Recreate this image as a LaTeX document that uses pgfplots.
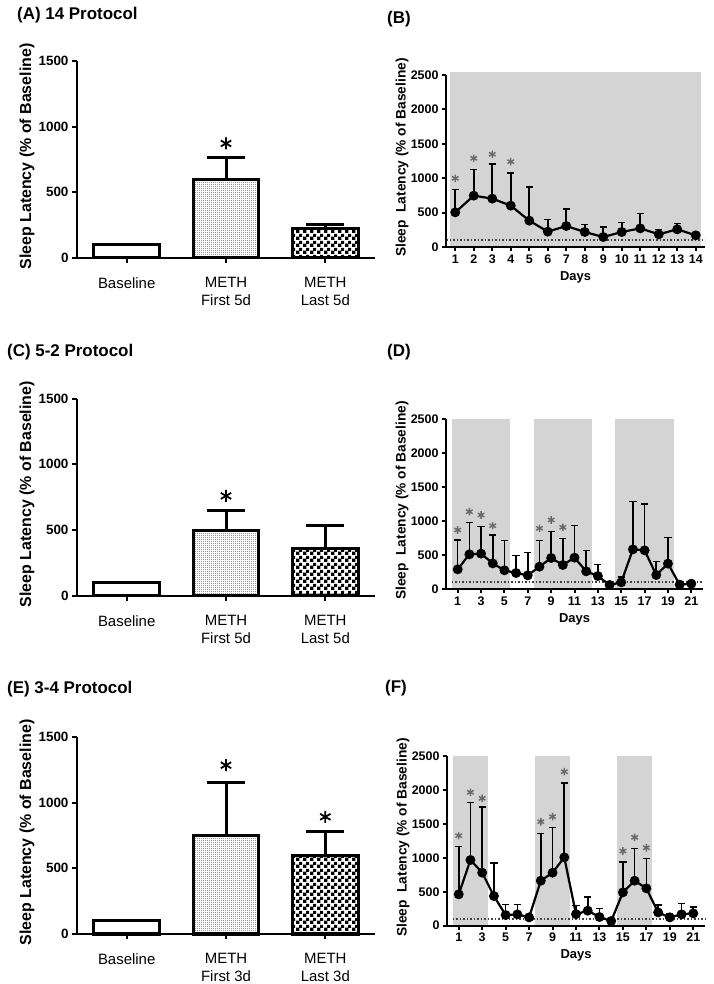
\documentclass[border=0pt]{standalone}
\usepackage{pgfplots}
\pgfplotsset{compat=1.18}
\usepackage{fontspec}
\setmainfont{Liberation Sans}
\usetikzlibrary{patterns}
\definecolor{shade}{RGB}{212,212,212}
\definecolor{stargray}{RGB}{105,105,105}
\pgfdeclarepatternformonly{bigchecker}{\pgfpointorigin}{\pgfqpoint{6.6pt}{6.6pt}}{\pgfqpoint{6.6pt}{6.6pt}}{%
  \pgfpathrectangle{\pgfpointorigin}{\pgfqpoint{3.7pt}{3.7pt}}%
  \pgfpathrectangle{\pgfqpoint{3.3pt}{3.3pt}}{\pgfqpoint{3.3pt}{3.3pt}}%
  \pgfusepath{fill}}
\pgfdeclarepatternformonly{finedots}{\pgfpointorigin}{\pgfqpoint{2pt}{2pt}}{\pgfqpoint{2pt}{2pt}}{%
  \pgfpathrectangle{\pgfpointorigin}{\pgfqpoint{0.6pt}{0.6pt}}%
  \pgfusepath{fill}}

\pgfplotstableread{
x y e
1 504 334
2 746 383
3 703 499
4 601 475
5 383 489
6 223 179
7 305 247
8 218 107
9 145 146
10 218 136
11 271 218
12 184 73
13 257 82
14 170 0
}\dataB
\pgfplotstableread{
x y e
1 289 431
2 510 465
3 520 397
4 377 417
5 275 436
6 235 255
7 201 338
8 328 383
9 456 387
10 353 392
11 461 470
12 260 309
13 191 172
14 59 0
15 98 74
16 583 701
17 569 681
18 206 196
19 373 387
20 64 0
21 78 0
}\dataD
\pgfplotstableread{
x y e
1 462 702
2 968 849
3 781 968
4 437 486
5 157 157
6 167 147
7 123 0
8 663 697
9 781 663
10 1007 1095
11 170 128
12 221 206
13 128 127
14 69 0
15 491 447
16 663 476
17 550 442
18 196 109
19 123 59
20 167 162
21 182 93
}\dataF

\pgfplotsset{
  barax/.style={
    scale only axis, width=298bp, height=197bp,
    axis lines=left, axis line style={line width=2.2bp,-},
    xmin=-0.5, xmax=2.5, ymin=0, ymax=1500,
    xtick={0,1,2}, ytick={0,500,1000,1500},
    tick align=outside, major tick length=5bp,
    tick style={line width=2.2bp,black},
    xticklabel shift=11bp,
    xticklabel style={font=\fontsize{15}{18}\selectfont, align=center, anchor=north},
    yticklabel style={font=\bfseries\fontsize{13.5}{14}\selectfont},
    ylabel={Sleep Latency (\% of Baseline)},
    every axis y label/.style={at={(axis description cs:0,0.515)}, xshift=-50bp, rotate=90, anchor=center,
      font=\bfseries\fontsize{16}{16}\selectfont},
    /pgf/number format/assume math mode=true,
    /pgf/number format/1000 sep={},
    clip=false,
  },
  lineax/.style={
    scale only axis,
    axis lines=left, axis line style={line width=2bp,-},
    ymin=0, ymax=2500, ytick={0,500,1000,1500,2000,2500},
    tick align=outside, major tick length=4bp,
    tick style={line width=2bp,black},
    ticklabel style={font=\bfseries\fontsize{12.5}{13}\selectfont},
    xlabel={Days},
    every axis x label/.style={at={(axis description cs:0.5,0)}, yshift=-30bp, anchor=center,
      font=\bfseries\fontsize{13}{13}\selectfont},
    ylabel={Sleep\ \ Latency (\% of Baseline)},
    every axis y label/.style={at={(axis description cs:0,0.52)}, xshift=-44bp, rotate=90, anchor=center,
      font=\bfseries\fontsize{13.8}{14}\selectfont},
    /pgf/number format/assume math mode=true,
    /pgf/number format/1000 sep={},
    clip=false, axis on top,
  },
  basebar/.style={ybar, bar width=0.66, bar shift=0pt, draw=black, line width=3bp, fill=white},
  ebar/.style={error bars/.cd, y dir=plus, y explicit, error mark=|,
    error bar style={line width=3bp, black},
    error mark options={line width=3bp, mark size=19bp, black}},
  bigstar/.style={only marks, mark=asterisk, mark size=6bp, mark options={line width=1.8bp, black}},
  smallstar/.style={only marks, mark=asterisk, mark size=3.8bp, mark options={line width=1.4bp, stargray}},
  dataline/.style={black, line width=2.2bp, mark=*, mark size=3.8bp,
    error bars/.cd, y dir=plus, y explicit, error mark=|,
    error bar style={line width=1.6bp, black},
    error mark options={line width=1.6bp, mark size=3.6bp, black}},
  baseline/.style={line width=1.5bp, color=black!75, dash pattern=on 1.5bp off 2bp},
}

\begin{document}
\begin{tikzpicture}
\useasboundingbox (0,0) rectangle (714bp,984bp);

% Titles
\node[anchor=west, font=\bfseries\fontsize{17}{17}\selectfont, inner sep=0] at (17bp,969bp) {(A) 14 Protocol};
\node[anchor=west, font=\bfseries\fontsize{17}{17}\selectfont, inner sep=0] at (387bp,965bp) {(B)};
\node[anchor=west, font=\bfseries\fontsize{17}{17}\selectfont, inner sep=0] at (7bp,632bp) {(C) 5-2 Protocol};
\node[anchor=west, font=\bfseries\fontsize{17}{17}\selectfont, inner sep=0] at (387bp,632bp) {(D)};
\node[anchor=west, font=\bfseries\fontsize{17}{17}\selectfont, inner sep=0] at (7bp,294.5bp) {(E) 3-4 Protocol};
\node[anchor=west, font=\bfseries\fontsize{17}{17}\selectfont, inner sep=0] at (385bp,296bp) {(F)};

% (A)
\begin{axis}[barax, at={(77bp,726bp)}, anchor=south west,
  xticklabels={{Baseline\\\phantom{First 5d}}, {METH\\First 5d}, {METH\\Last 5d}}]
\addplot[basebar] coordinates {(0,100)};
\addplot[basebar, pattern=finedots, ebar] coordinates {(1,600) +- (0,163)};
\addplot[basebar, pattern=bigchecker, ebar] coordinates {(2,224) +- (0,30)};
\addplot[bigstar] coordinates {(1,872)};
\end{axis}

% (C)
\begin{axis}[barax, at={(77bp,388.3bp)}, anchor=south west,
  xticklabels={{Baseline\\\phantom{First 5d}}, {METH\\First 5d}, {METH\\Last 5d}}]
\addplot[basebar] coordinates {(0,101)};
\addplot[basebar, pattern=finedots, ebar] coordinates {(1,499) +- (0,152)};
\addplot[basebar, pattern=bigchecker, ebar] coordinates {(2,362) +- (0,175)};
\addplot[bigstar] coordinates {(1,760)};
\end{axis}

% (E)
\begin{axis}[barax, at={(77bp,50bp)}, anchor=south west,
  xticklabels={{Baseline\\\phantom{First 3d}}, {METH\\First 3d}, {METH\\Last 3d}}]
\addplot[basebar] coordinates {(0,101)};
\addplot[basebar, pattern=finedots, ebar] coordinates {(1,752) +- (0,398)};
\addplot[basebar, pattern=bigchecker, ebar] coordinates {(2,598) +- (0,180)};
\addplot[bigstar] coordinates {(1,1285) (2,892)};
\end{axis}

% (B)
\begin{axis}[lineax, at={(446bp,737bp)}, anchor=south west, width=259bp, height=172bp,
  xmin=0.5, xmax=14.5, xtick={1,...,14}]
\addplot[fill=shade, draw=none] coordinates {(0.73,2550) (14.27,2550)} \closedcycle;
\addplot[baseline] coordinates {(0.5,100) (14.5,100)};
\addplot[dataline] table[x=x, y=y, y error=e] {\dataB};
\addplot[smallstar] coordinates {(1,998) (2,1289) (3,1347) (4,1240)};
\end{axis}

% (D)
\begin{axis}[lineax, at={(446bp,395bp)}, anchor=south west, width=257bp, height=170bp,
  xmin=0, xmax=22, xtick={1,3,...,21}]
\addplot[fill=shade, draw=none] coordinates {(0.5,2500) (5.5,2500)} \closedcycle;
\addplot[fill=shade, draw=none] coordinates {(7.5,2500) (12.5,2500)} \closedcycle;
\addplot[fill=shade, draw=none] coordinates {(14.5,2500) (19.5,2500)} \closedcycle;
\addplot[baseline] coordinates {(0.5,100) (22,100)};
\addplot[dataline] table[x=x, y=y, y error=e] {\dataD};
\addplot[smallstar] coordinates {(1,868) (2,1137) (3,1088) (4,931) (8,892) (9,1015) (10,907)};
\end{axis}

% (F)
\begin{axis}[lineax, at={(447bp,58.3bp)}, anchor=south west, width=258bp, height=169.7bp,
  xmin=0, xmax=22, xtick={1,3,...,21}]
\addplot[fill=shade, draw=none] coordinates {(0.5,2500) (3.5,2500)} \closedcycle;
\addplot[fill=shade, draw=none] coordinates {(7.5,2500) (10.5,2500)} \closedcycle;
\addplot[fill=shade, draw=none] coordinates {(14.5,2500) (17.5,2500)} \closedcycle;
\addplot[baseline] coordinates {(0.5,100) (22,100)};
\addplot[dataline] table[x=x, y=y, y error=e] {\dataF};
\addplot[smallstar] coordinates {(1,1326) (2,1965) (3,1876) (8,1532) (9,1606) (10,2269) (15,1100) (16,1301) (17,1149)};
\end{axis}
\end{tikzpicture}
\end{document}
